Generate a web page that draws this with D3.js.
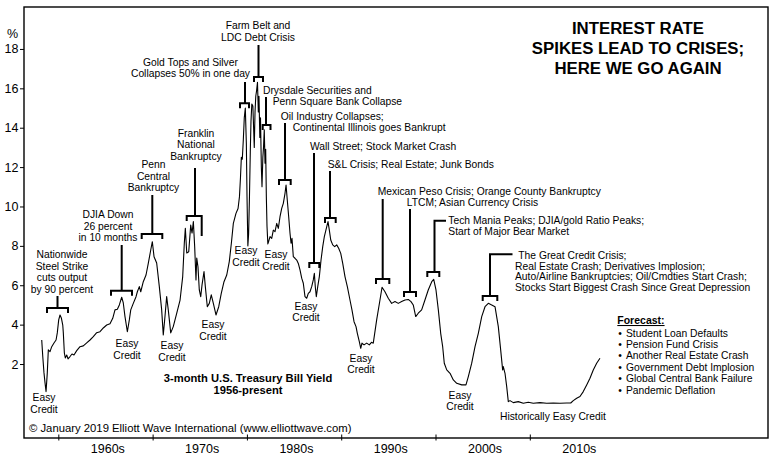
<!DOCTYPE html>
<html>
<head>
<meta charset="utf-8">
<script src="https://cdn.jsdelivr.net/npm/d3@7"></script>
<style>
	body { margin: 0; background: #fff; }
	svg text { font-family: "Liberation Sans", Arial, Helvetica, sans-serif; fill: #000; }
</style>
</head>
<body>
<svg id="chart" width="774" height="459"></svg>
<script>
// 3-month T-bill yield (decimal year, percent)
var years = [
	1958.24, 1958.35, 1958.48, 1958.59, 1958.70, 1958.83, 1958.94, 1959.12, 1959.30, 1959.54,
	1959.76, 1959.89, 1960.04, 1960.18, 1960.32, 1960.47, 1960.53, 1960.64, 1960.74, 1960.89,
	1961.03, 1961.24, 1961.45, 1961.66, 1961.95, 1962.30, 1962.65, 1963.01, 1963.36, 1963.71,
	1964.07, 1964.42, 1964.77, 1965.13, 1965.48, 1965.77, 1966.01, 1966.26, 1966.47, 1966.72,
	1966.89, 1967.07, 1967.32, 1967.53, 1967.68, 1967.95, 1968.24, 1968.38, 1968.59, 1968.74,
	1969.01, 1969.30, 1969.54, 1969.80, 1969.97, 1970.15, 1970.43, 1970.71, 1970.96, 1971.13,
	1971.31, 1971.49, 1971.66, 1971.92, 1972.19, 1972.56, 1972.91, 1973.19, 1973.36, 1973.47,
	1973.62, 1973.83, 1974.04, 1974.18, 1974.32, 1974.46, 1974.60, 1974.68, 1974.81, 1974.95,
	1975.10, 1975.24, 1975.45, 1975.59, 1975.80, 1976.01, 1976.22, 1976.44, 1976.72, 1977.01,
	1977.28, 1977.57, 1977.86, 1978.13, 1978.35, 1978.56, 1978.84, 1979.06, 1979.21, 1979.32,
	1979.41, 1979.51, 1979.62, 1979.72, 1979.83, 1979.94, 1980.01, 1980.10, 1980.18, 1980.27,
	1980.36, 1980.43, 1980.52, 1980.63, 1980.71, 1980.78, 1980.86, 1980.94, 1981.03, 1981.12,
	1981.21, 1981.28, 1981.37, 1981.44, 1981.53, 1981.60, 1981.69, 1981.76, 1981.84, 1981.92,
	1981.99, 1982.06, 1982.13, 1982.22, 1982.29, 1982.45, 1982.63, 1982.80, 1982.98, 1983.16,
	1983.33, 1983.51, 1983.69, 1983.86, 1984.04, 1984.15, 1984.28, 1984.43, 1984.57, 1984.68,
	1984.78, 1984.92, 1985.10, 1985.28, 1985.45, 1985.63, 1985.81, 1985.98, 1986.16, 1986.34,
	1986.51, 1986.69, 1986.87, 1987.04, 1987.15, 1987.25, 1987.36, 1987.51, 1987.68, 1987.86,
	1988.04, 1988.21, 1988.46, 1988.60, 1988.74, 1988.89, 1989.10, 1989.31, 1989.52, 1989.73,
	1989.95, 1990.16, 1990.40, 1990.65, 1990.93, 1991.14, 1991.36, 1991.57, 1991.71, 1991.92,
	1992.07, 1992.20, 1992.42, 1992.70, 1992.98, 1993.21, 1993.40, 1993.76, 1994.11, 1994.33,
	1994.64, 1994.99, 1995.35, 1995.70, 1996.05, 1996.41, 1996.76, 1997.11, 1997.40, 1997.64,
	1997.90, 1998.17, 1998.53, 1998.88, 1999.23, 1999.60, 1999.81, 2000.05, 2000.30, 2000.55,
	2000.76, 2000.93, 2001.19, 2001.54, 2001.89, 2002.25, 2002.78, 2003.23, 2003.48, 2003.84,
	2004.19, 2004.54, 2004.90, 2005.25, 2005.60, 2005.96, 2006.31, 2006.66, 2006.91, 2007.12,
	2007.19, 2007.37, 2007.55, 2007.72, 2007.90, 2008.25, 2008.78, 2009.31, 2009.84, 2010.37,
	2011.08, 2011.79, 2012.49, 2013.20, 2013.91, 2014.34, 2014.61, 2014.97, 2015.32, 2015.67,
	2016.03, 2016.38, 2016.73, 2017.09, 2017.44
];
var yields = [
	3.22, 2.38, 1.55, 1.04, 0.60, 1.55, 2.72, 2.63, 2.88, 3.07,
	3.22, 3.58, 4.24, 4.49, 4.34, 3.98, 3.58, 2.56, 2.31, 2.46,
	2.26, 2.38, 2.51, 2.46, 2.68, 2.88, 2.92, 3.07, 3.22, 3.39,
	3.59, 3.64, 3.83, 3.98, 4.04, 4.32, 4.75, 4.78, 5.00, 5.39,
	5.10, 4.41, 3.64, 4.24, 4.75, 5.08, 5.42, 5.67, 5.93, 5.67,
	6.18, 6.52, 7.11, 7.79, 8.21, 7.45, 7.13, 5.93, 4.75, 3.48,
	4.41, 5.42, 4.75, 3.58, 3.90, 4.58, 5.25, 6.44, 8.13, 8.89,
	7.64, 7.70, 9.06, 8.65, 9.23, 7.96, 6.27, 7.38, 6.94, 5.76,
	5.42, 6.02, 6.69, 5.93, 4.91, 5.08, 5.51, 5.08, 4.49, 4.91,
	5.59, 6.18, 6.52, 7.20, 8.13, 9.14, 9.65, 9.90, 10.5, 11.5,
	12.5, 12.4, 13.4, 14.5, 15.0, 13.2, 10.5, 8.0, 8.6, 10.5,
	12.8, 14.3, 15.2, 15.1, 14.0, 13.0, 14.8, 15.6, 15.9, 16.3,
	14.8, 15.6, 13.5, 14.5, 12.0, 11.0, 12.5, 13.0, 13.9, 12.2,
	12.9, 10.5, 9.0, 8.1, 8.2, 8.47, 8.38, 8.80, 8.72, 9.14,
	8.89, 9.48, 9.90, 10.16, 10.67, 11.09, 10.33, 9.48, 8.64, 8.13,
	8.38, 7.45, 7.37, 7.28, 7.11, 6.78, 6.36, 6.10, 5.42, 5.34,
	5.59, 5.67, 5.93, 6.27, 6.61, 5.93, 5.42, 5.93, 6.44, 7.28,
	7.96, 8.47, 8.97, 9.23, 8.80, 8.30, 8.05, 7.96, 8.05, 7.88,
	7.62, 7.11, 6.44, 5.93, 5.25, 4.75, 4.15, 3.90, 3.56, 3.14,
	2.80, 3.06, 2.97, 3.06, 2.97, 3.10, 3.06, 4.24, 5.25, 5.90,
	5.67, 5.34, 5.08, 5.17, 5.08, 5.17, 5.25, 5.28, 5.17, 5.00,
	4.41, 4.58, 4.75, 5.25, 5.76, 6.18, 6.30, 5.76, 4.75, 3.56,
	2.88, 2.04, 1.70, 1.53, 1.19, 1.02, 0.94, 0.94, 1.36, 2.04,
	2.88, 3.56, 4.41, 4.91, 5.08, 5.00, 4.91, 3.90, 2.72, 1.70,
	1.87, 1.53, 0.85, 0.09, 0.14, 0.04, 0.09, 0.01, 0.06, 0.01,
	0.04, 0.01, 0.02, 0.01, 0.02, 0.02, 0.14, 0.26, 0.35, 0.60,
	0.94, 1.28, 1.70, 2.04, 2.29
];

var yTicks = [2, 4, 6, 8, 10, 12, 14, 16, 18];
var decades = [1960, 1970, 1980, 1990, 2000, 2010];
var decadeLabels = ['1960s', '1970s', '1980s', '1990s', '2000s', '2010s'];
var titleLines = ['INTEREST RATE', 'SPIKES LEAD TO CRISES;', 'HERE WE GO AGAIN'];
var forecastItems = [
	'Student Loan Defaults', 'Pension Fund Crisis', 'Another Real Estate Crash',
	'Government Debt Implosion', 'Global Central Bank Failure', 'Pandemic Deflation'
];

// callout texts (layout in px)
var notes = [
	{ lines: ['Easy', 'Credit'], x: 44, y: 401, lh: 12, anchor: 'middle' },
	{ lines: ['Nationwide', 'Steel Strike', 'cuts output', 'by 90 percent'], x: 62, y: 258, lh: 11.7, anchor: 'middle' },
	{ lines: ['Easy', 'Credit'], x: 127, y: 347, lh: 11.5, anchor: 'middle' },
	{ lines: ['DJIA Down', '26 percent', 'in 10 months'], x: 108, y: 218, lh: 11.5, anchor: 'middle' },
	{ lines: ['Penn', 'Central', 'Bankruptcy'], x: 153.5, y: 168, lh: 11.5, anchor: 'middle' },
	{ lines: ['Franklin', 'National', 'Bankruptcy'], x: 196, y: 136.5, lh: 11.5, anchor: 'middle' },
	{ lines: ['Easy', 'Credit'], x: 172, y: 349, lh: 11.5, anchor: 'middle' },
	{ lines: ['Easy', 'Credit'], x: 213, y: 328, lh: 12, anchor: 'middle' },
	{ lines: ['Gold Tops and Silver', 'Collapses 50% in one day'], x: 190.5, y: 66, lh: 11.3, anchor: 'middle' },
	{ lines: ['Farm Belt and', 'LDC Debt Crisis'], x: 258, y: 29, lh: 12, anchor: 'middle' },
	{ lines: ['Easy', 'Credit'], x: 246, y: 254, lh: 11.5, anchor: 'middle' },
	{ lines: ['Easy', 'Credit'], x: 276, y: 258, lh: 11.5, anchor: 'middle' },
	{ lines: ['Easy', 'Credit'], x: 306, y: 310, lh: 11.3, anchor: 'middle' },
	{ lines: ['Easy', 'Credit'], x: 361, y: 362, lh: 11, anchor: 'middle' },
	{ lines: ['Easy', 'Credit'], x: 460, y: 399, lh: 11.3, anchor: 'middle' },
	{ lines: ['Drysdale Securities and'], x: 263, y: 93.5, lh: 11, anchor: 'start' },
	{ lines: ['Penn Square Bank Collapse'], x: 272.7, y: 104.5, lh: 11, anchor: 'start' },
	{ lines: ['Oil Industry Collapses;'], x: 280.7, y: 120, lh: 11, anchor: 'start' },
	{ lines: ['Continental Illinois goes Bankrupt'], x: 292.7, y: 131, lh: 11, anchor: 'start' },
	{ lines: ['Wall Street; Stock Market Crash'], x: 310, y: 150, lh: 11, anchor: 'start' },
	{ lines: ['S&L Crisis; Real Estate; Junk Bonds'], x: 327.7, y: 168, lh: 11, anchor: 'start' },
	{ lines: ['Mexican Peso Crisis; Orange County Bankruptcy'], x: 377.7, y: 195, lh: 11, anchor: 'start' },
	{ lines: ['LTCM; Asian Currency Crisis'], x: 406.7, y: 205.5, lh: 11, anchor: 'start' },
	{ lines: ['Tech Mania Peaks; DJIA/gold Ratio Peaks;', 'Start of Major Bear Market'], x: 448.3, y: 224, lh: 11.2, anchor: 'start' },
	{ lines: ['The Great Credit Crisis;'], x: 518.3, y: 259, lh: 10.6, anchor: 'start' },
	{ lines: ['Real Estate Crash; Derivatives Implosion;', 'Auto/Airline Bankruptcies; Oil/Cmdties Start Crash;', 'Stocks Start Biggest Crash Since Great Depression'], x: 515, y: 269.5, lh: 10.7, anchor: 'start' },
	{ lines: ['Historically Easy Credit'], x: 500, y: 420, lh: 11, anchor: 'start' }
];

// brackets: horizontal bar with end ticks, stem up to the text
var brackets = [
	{ x1: 47, x2: 68, y: 308, sx: 57.5, top: 296 },
	{ x1: 111, x2: 132, y: 290.7, sx: 121.7, top: 245 },
	{ x1: 141.7, x2: 162.3, y: 234, sx: 152.3, top: 195 },
	{ x1: 186.7, x2: 201.7, y: 216, sx: 195, top: 168, tr: 20 },
	{ x1: 240, x2: 249, y: 103.3, sx: 245, top: 82 },
	{ x1: 254, x2: 263, y: 77, sx: 258.5, top: 45 },
	{ x1: 262.7, x2: 270.5, y: 125, sx: 266, top: 97 },
	{ x1: 279, x2: 290.7, y: 180, sx: 285, top: 123 },
	{ x1: 309.3, x2: 319.3, y: 263, sx: 314, top: 153 },
	{ x1: 325, x2: 335.7, y: 218, sx: 330, top: 171 },
	{ x1: 376, x2: 389.3, y: 279, sx: 382.7, top: 199 },
	{ x1: 404, x2: 416, y: 292, sx: 410, top: 209 },
	{ x1: 427.3, x2: 439.3, y: 272, sx: 434.5, top: 220.7, lead: 446 },
	{ x1: 482.7, x2: 497.3, y: 296, sx: 490, top: 254.3, lead: 512.5 }
];

var svg = d3.select('#chart');
var font = '"Liberation Sans", Arial, Helvetica, sans-serif';

var x = d3.scaleLinear().domain([1956.36, 2035.26]).range([24, 768]);
var y = d3.scaleLinear().domain([-1.757, 20.13]).range([438, 7]);

svg.append('rect')
	.attr('width', 774).attr('height', 459)
	.attr('fill', '#fff');

// y axis
var yAxis = svg.append('g')
	.attr('transform', 'translate(24,0)')
	.call(d3.axisLeft(y).tickValues(yTicks).tickSize(4).tickPadding(1.5));
yAxis.select('.domain').remove();
yAxis.selectAll('line').attr('stroke', '#000').attr('stroke-width', 1);
yAxis.selectAll('text')
	.attr('font-size', 12.5)
	.attr('font-family', font)
	.attr('fill', '#000');

svg.append('text')
	.attr('x', 7).attr('y', 38)
	.attr('font-size', 12.5)
	.text('%');

// x axis
var xAxis = svg.append('g')
	.attr('transform', 'translate(0,434.5)')
	.call(d3.axisBottom(x).tickValues(decades).tickSize(6).tickFormat(''));
xAxis.select('.domain').remove();
xAxis.selectAll('line').attr('stroke', '#000').attr('stroke-width', 1);

svg.append('g').selectAll('text')
	.data(decades)
	.enter().append('text')
	.attr('x', function (d) { return x(d + 5.25); })
	.attr('y', 452.5)
	.attr('text-anchor', 'middle')
	.attr('font-size', 12.5)
	.text(function (d, i) { return decadeLabels[i]; });

// frame
svg.append('rect')
	.attr('x', 24).attr('y', 7)
	.attr('width', 744).attr('height', 431)
	.attr('fill', 'none')
	.attr('stroke', '#000')
	.attr('stroke-width', 1.4);

// series
var points = years.map(function (yr, i) { return [yr, yields[i]]; });

svg.append('path')
	.datum(points)
	.attr('fill', 'none')
	.attr('stroke', '#000')
	.attr('stroke-width', 1.1)
	.attr('stroke-linejoin', 'round')
	.attr('d', d3.line()
		.x(function (d) { return x(d[0]); })
		.y(function (d) { return y(d[1]); }));

// brackets
var bg = svg.append('g')
	.attr('fill', 'none')
	.attr('stroke', '#000')
	.attr('stroke-width', 2);

brackets.forEach(function (b) {
	var tl = b.tl || 5,
		tr = b.tr || 5,
		d = 'M' + b.x1 + ',' + (b.y + tl) + 'V' + b.y + 'H' + b.x2 + 'V' + (b.y + tr) +
			'M' + b.sx + ',' + b.y + 'V' + b.top;

	if (b.lead) {
		d += 'H' + b.lead;
	}
	bg.append('path').attr('d', d);
});

// callout texts
notes.forEach(function (n) {
	var t = svg.append('text')
		.attr('x', n.x)
		.attr('y', n.y)
		.attr('font-size', 10.3)
		.attr('text-anchor', n.anchor);

	n.lines.forEach(function (line, i) {
		t.append('tspan')
			.attr('x', n.x)
			.attr('dy', i === 0 ? 0 : n.lh)
			.text(line);
	});
});

// title
svg.append('g').selectAll('text')
	.data(titleLines)
	.enter().append('text')
	.attr('x', 638)
	.attr('y', function (d, i) { return 34.3 + i * 20; })
	.attr('text-anchor', 'middle')
	.attr('font-size', 16.8)
	.attr('font-weight', 'bold')
	.text(function (d) { return d; });

// series caption
svg.append('text')
	.attr('x', 248).attr('y', 381.7)
	.attr('text-anchor', 'middle')
	.attr('font-size', 11.2)
	.attr('font-weight', 'bold')
	.text('3-month U.S. Treasury Bill Yield');

svg.append('text')
	.attr('x', 248).attr('y', 394)
	.attr('text-anchor', 'middle')
	.attr('font-size', 11.2)
	.attr('font-weight', 'bold')
	.text('1956-present');

svg.append('text')
	.attr('x', 29).attr('y', 432)
	.attr('font-size', 11.3)
	.text('\u00a9 January 2019 Elliott Wave International (www.elliottwave.com)');

// forecast list
svg.append('text')
	.attr('x', 617.3).attr('y', 324)
	.attr('font-size', 10.5)
	.attr('font-weight', 'bold')
	.style('text-decoration', 'underline')
	.text('Forecast:');

var fc = svg.append('g').selectAll('g')
	.data(forecastItems)
	.enter().append('g');

fc.append('text')
	.attr('x', 618.3)
	.attr('y', function (d, i) { return 336.5 + i * 11.4; })
	.attr('font-size', 10.3)
	.text('\u2022');

fc.append('text')
	.attr('x', 626)
	.attr('y', function (d, i) { return 336.5 + i * 11.4; })
	.attr('font-size', 10.3)
	.text(function (d) { return d; });
</script>
</body>
</html>
